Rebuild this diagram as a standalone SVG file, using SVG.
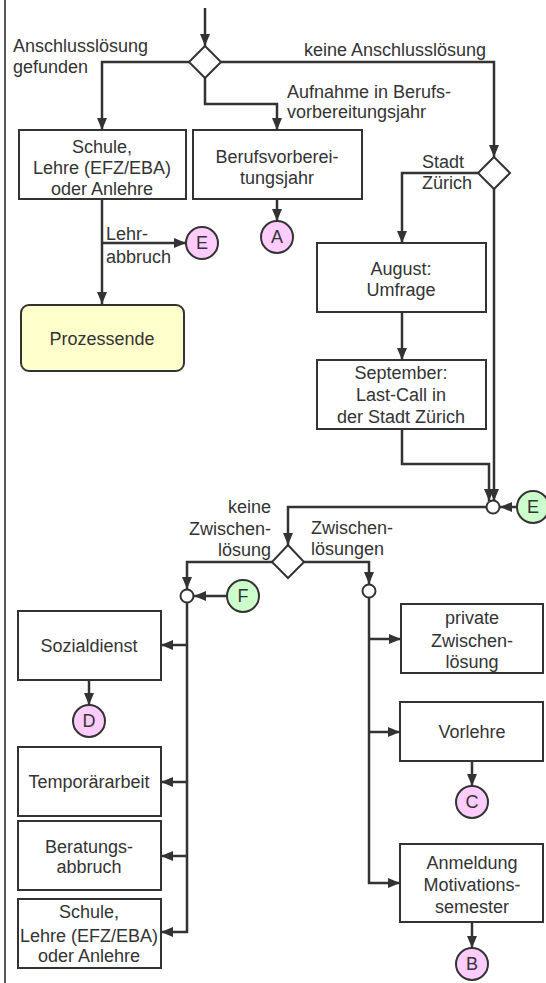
<svg xmlns="http://www.w3.org/2000/svg" width="546" height="983" viewBox="0 0 546 983">
<style>
text{font-family:"Liberation Sans",Arial,sans-serif;font-size:18px;fill:#333}
.c{text-anchor:middle}
.e{text-anchor:end}
.box{fill:#fff;stroke:#333;stroke-width:2}
.end{fill:#ffffcc;stroke:#333;stroke-width:2}
.dia{fill:#fff;stroke:#333;stroke-width:2}
.pink{fill:#ffccff;stroke:#333;stroke-width:2}
.green{fill:#ccffcc;stroke:#333;stroke-width:2}
.jn{fill:#fff;stroke:#333;stroke-width:2}
.ln{fill:none;stroke:#333;stroke-width:2.5}
.ar{fill:none;stroke:#333;stroke-width:2.5;marker-end:url(#ah)}
</style>
<defs>
<marker id="ah" markerUnits="userSpaceOnUse" markerWidth="14" markerHeight="12" refX="12" refY="5" orient="auto">
<path d="M0,0 L12,5 L0,10 z" fill="#333"/>
</marker>
</defs>
<line x1="5" y1="0" x2="5" y2="983" stroke="#222" stroke-width="1.5"/>
<g id="connectors">
<path class="ar" d="M205,8 V46"/>
<path class="ar" d="M189,62 H102 V130"/>
<path class="ar" d="M205,78 V104 H277 V130"/>
<path class="ar" d="M221,62 H494 V157"/>
<path class="ar" d="M277,199 V221"/>
<path class="ar" d="M102,199 V304"/>
<path class="ar" d="M102,243 H186"/>
<path class="ar" d="M478,173 H402 V243"/>
<path class="ar" d="M402,312 V360"/>
<path class="ar" d="M402,429 V464 H489 V501"/>
<path class="ar" d="M494,189 V501"/>
<path class="ar" d="M517,507 H500"/>
<path class="ar" d="M487,507 H288 V545"/>
<path class="ar" d="M272,562 H187 V589"/>
<path class="ar" d="M227,596 H194"/>
<path class="ln" d="M187,603 V933"/>
<path class="ar" d="M187,645 H161"/>
<path class="ar" d="M187,782 H161"/>
<path class="ar" d="M187,856 H161"/>
<path class="ar" d="M188,932 H161"/>
<path class="ar" d="M304,562 H369 V584"/>
<path class="ar" d="M369,597 V883 H400"/>
<path class="ar" d="M369,639 H401"/>
<path class="ar" d="M369,732 H400"/>
<path class="ar" d="M89,680 V705"/>
<path class="ar" d="M472,761 V786"/>
<path class="ar" d="M472,922 V948"/>
<text x="13" y="52">Anschlusslösung</text>
<text x="13" y="73">gefunden</text>
<text x="304" y="56">keine Anschlusslösung</text>
<text x="287" y="98">Aufnahme in Berufs-</text>
<text x="287" y="118">vorbereitungsjahr</text>
<text x="422" y="168">Stadt</text>
<text x="422" y="189">Zürich</text>
<text x="106" y="240">Lehr-</text>
<text x="106" y="263">abbruch</text>
<text class="e" x="271" y="513">keine</text>
<text class="e" x="271" y="535">Zwischen-</text>
<text class="e" x="271" y="556">lösung</text>
<text x="311" y="534">Zwischen-</text>
<text x="311" y="555">lösungen</text>
</g>
<g id="decision1"><path class="dia" d="M205,46 L221,62 L205,78 L189,62 z"/></g>
<g id="decision2"><path class="dia" d="M494,157 L510,173 L494,189 L478,173 z"/></g>
<g id="decision3"><path class="dia" d="M288,545 L304,562 L288,578 L272,562 z"/></g>
<g id="schule1">
<rect class="box" x="19" y="130" width="167" height="69"/>
<text class="c" x="102" y="153">Schule,</text>
<text class="c" x="102" y="174">Lehre (EFZ/EBA)</text>
<text class="c" x="102" y="195">oder Anlehre</text>
</g>
<g id="bvj">
<rect class="box" x="193" y="130" width="169" height="69"/>
<text class="c" x="277" y="163">Berufsvorberei-</text>
<text class="c" x="277" y="184">tungsjahr</text>
</g>
<g id="circleA"><circle class="pink" cx="277" cy="237" r="16"/><text class="c" x="277" y="243">A</text></g>
<g id="circleE1"><circle class="pink" cx="202" cy="243" r="16"/><text class="c" x="202" y="249">E</text></g>
<g id="prozessende">
<rect class="end" x="21" y="305" width="163" height="66" rx="8"/>
<text class="c" x="102" y="345">Prozessende</text>
</g>
<g id="august">
<rect class="box" x="317" y="243" width="169" height="69"/>
<text class="c" x="401" y="275">August:</text>
<text class="c" x="401" y="296">Umfrage</text>
</g>
<g id="september">
<rect class="box" x="317" y="360" width="169" height="69"/>
<text class="c" x="401" y="379">September:</text>
<text class="c" x="401" y="401">Last-Call in</text>
<text class="c" x="401" y="423">der Stadt Zürich</text>
</g>
<g id="junction1"><circle class="jn" cx="493" cy="507" r="6.5"/></g>
<g id="circleE2"><circle class="green" cx="533" cy="507" r="16"/><text class="c" x="533" y="513">E</text></g>
<g id="junction2"><circle class="jn" cx="187" cy="596" r="6.5"/></g>
<g id="circleF"><circle class="green" cx="243" cy="596" r="16"/><text class="c" x="243" y="602">F</text></g>
<g id="junction3"><circle class="jn" cx="369" cy="591" r="6.5"/></g>
<g id="sozialdienst">
<rect class="box" x="18" y="611" width="143" height="69"/>
<text class="c" x="89" y="652">Sozialdienst</text>
</g>
<g id="circleD"><circle class="pink" cx="89" cy="721" r="16"/><text class="c" x="89" y="727">D</text></g>
<g id="temporaer">
<rect class="box" x="18" y="747" width="143" height="69"/>
<text class="c" x="89" y="788">Temporärarbeit</text>
</g>
<g id="beratungsabbruch">
<rect class="box" x="18" y="821" width="143" height="69"/>
<text class="c" x="89" y="853">Beratungs-</text>
<text class="c" x="89" y="873">abbruch</text>
</g>
<g id="schule2">
<rect class="box" x="18" y="899" width="143" height="69"/>
<text class="c" x="89" y="918">Schule,</text>
<text class="c" x="89" y="942">Lehre (EFZ/EBA)</text>
<text class="c" x="89" y="962">oder Anlehre</text>
</g>
<g id="private">
<rect class="box" x="401" y="604" width="142" height="69"/>
<text class="c" x="472" y="624">private</text>
<text class="c" x="472" y="647">Zwischen-</text>
<text class="c" x="472" y="668">lösung</text>
</g>
<g id="vorlehre">
<rect class="box" x="400" y="702" width="143" height="59"/>
<text class="c" x="472" y="738">Vorlehre</text>
</g>
<g id="circleC"><circle class="pink" cx="472" cy="802" r="16"/><text class="c" x="472" y="808">C</text></g>
<g id="anmeldung">
<rect class="box" x="400" y="844" width="143" height="78"/>
<text class="c" x="472" y="869">Anmeldung</text>
<text class="c" x="472" y="891">Motivations-</text>
<text class="c" x="472" y="913">semester</text>
</g>
<g id="circleB"><circle class="pink" cx="472" cy="964" r="16"/><text class="c" x="472" y="970">B</text></g>
</svg>
